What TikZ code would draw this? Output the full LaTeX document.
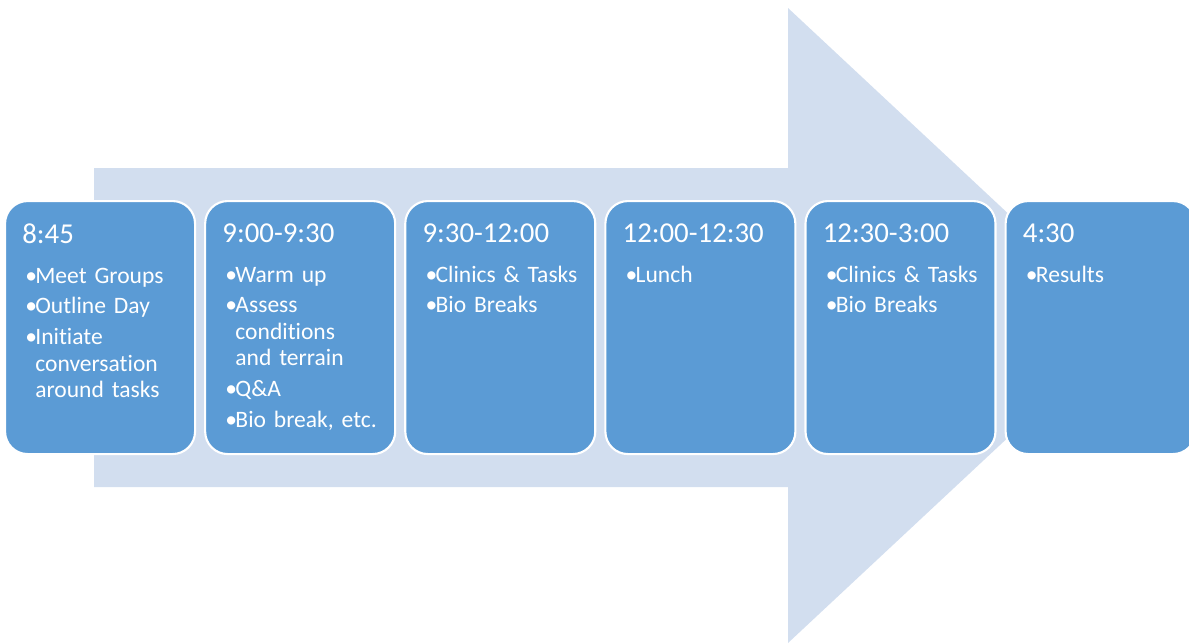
\documentclass[tikz,border=0pt]{standalone}
\usepackage{fontspec}
\setmainfont{Carlito}[Ligatures=NoCommon]
\usepackage{xcolor}
\usetikzlibrary{positioning}

\definecolor{slotblue}{HTML}{5B9BD5}
\definecolor{arrowblue}{HTML}{D2DEEF}

\newcommand\slottitle[1]{{\fontsize{16.4}{15}\selectfont #1\par}\vspace{5.2pt}}
\newcommand\bul[1]{\noindent\hangindent=0.26cm\hangafter=1\makebox[0.26cm][l]{\kern0.06cm\textbullet}#1\par}

\begin{document}
\begin{tikzpicture}[
    node distance=0.16cm,
    slot/.style={rectangle, rounded corners=0.45cm, fill=slotblue, draw=white, line width=1.2pt, minimum width=3.8cm, minimum height=5.06cm},
    slottext/.style={inner sep=0pt, text width=3.1cm, align=left, text=white, font=\fontsize{13.4}{15}\selectfont, execute at begin node={\setlength{\parskip}{2.55pt}\hyphenpenalty=10000\exhyphenpenalty=10000}}
]
    \useasboundingbox (0,0) rectangle (23.78,12.86);
    \clip (0,0) rectangle (23.78,12.86);

    % big background arrow
    \fill[arrowblue] (1.88,9.5) -- (15.76,9.5) -- (15.76,12.7) -- (22.56,6.35)
        -- (15.76,0) -- (15.76,3.12) -- (1.88,3.12) -- cycle;

    \node[slot, anchor=north west] (s1) at (0.08,8.86) {};
    \node[slot, right=of s1] (s2) {};
    \node[slot, right=of s2] (s3) {};
    \node[slot, right=of s3] (s4) {};
    \node[slot, right=of s4] (s5) {};
    \node[slot, right=of s5] (s6) {};

    \node[slottext, below right=0.46cm and 0.36cm of s1.north west] (t1) {\slottitle{8:45}\bul{Meet Groups}\bul{Outline Day}\bul{Initiate conversation around tasks}};
    \node[slottext, below right=0.46cm and 0.36cm of s2.north west] (t2) {\slottitle{9:00-9:30}\bul{Warm up}\bul{Assess conditions and terrain}\bul{Q\&A}\bul{Bio break, etc.}};
    \node[slottext, below right=0.46cm and 0.36cm of s3.north west] (t3) {\slottitle{9:30-12:00}\bul{Clinics \& Tasks}\bul{Bio Breaks}};
    \node[slottext, below right=0.46cm and 0.36cm of s4.north west] (t4) {\slottitle{12:00-12:30}\bul{Lunch}};
    \node[slottext, below right=0.46cm and 0.36cm of s5.north west] (t5) {\slottitle{12:30-3:00}\bul{Clinics \& Tasks}\bul{Bio Breaks}};
    \node[slottext, below right=0.46cm and 0.36cm of s6.north west] (t6) {\slottitle{4:30}\bul{Results}};
\end{tikzpicture}
\end{document}
